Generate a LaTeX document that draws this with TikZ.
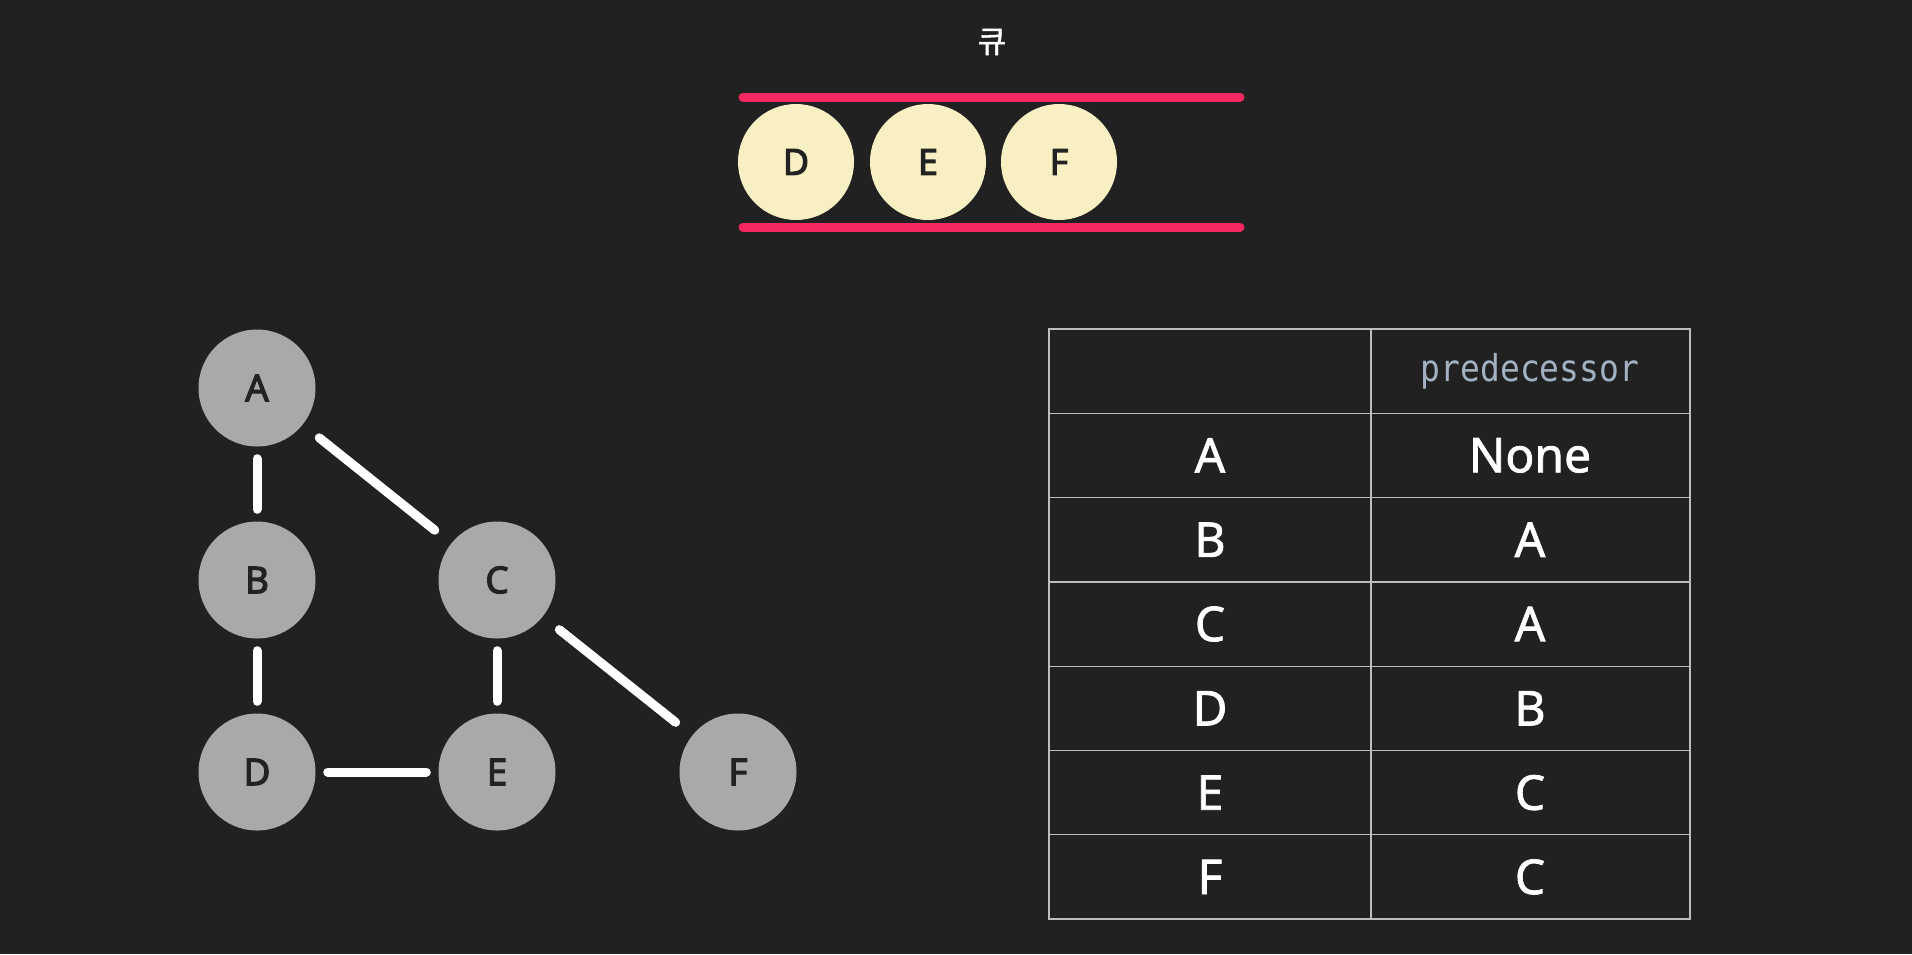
\documentclass[tikz,border=0pt]{standalone}
\usepackage{fontspec}
\setmainfont{Noto Sans}
\newfontfamily\nodefont{Noto Sans}[FakeBold=3]
\newfontfamily\cellfont{Noto Sans}[FakeBold=1.5]
\newfontfamily\krfont{Noto Sans CJK KR}[FakeBold=1.5]
\newfontfamily\monofont{DejaVu Sans Mono}[FakeStretch=0.89]
\definecolor{bg}{HTML}{212121}
\definecolor{nodegray}{HTML}{A9A9A9}
\definecolor{cream}{HTML}{F8EFC3}
\definecolor{qred}{HTML}{F5295F}
\definecolor{darktxt}{HTML}{222222}
\definecolor{gridc}{HTML}{BDBDBD}
\definecolor{monoc}{HTML}{A3B2C2}
\tikzset{
  gnode/.style={circle, fill=nodegray, minimum size=117pt, inner sep=0pt, text=darktxt, font=\nodefont\fontsize{37}{40}\selectfont},
  qnode/.style={circle, fill=cream, minimum size=116pt, inner sep=0pt, text=darktxt, font=\nodefont\fontsize{36}{40}\selectfont},
  edge/.style={white, line width=9pt, line cap=round, shorten <=12pt, shorten >=12pt},
  dedge/.style={white, line width=9pt, line cap=round, shorten <=21pt, shorten >=21pt},
  qline/.style={qred, line width=9pt, line cap=round},
  cell/.style={text=white, font=\cellfont\fontsize{48}{52}\selectfont, inner sep=0pt},
  grid/.style={gridc, line width=1.3pt}
}
\begin{document}
\begin{tikzpicture}[x=1pt, y=-1pt]
\fill[bg] (0,0) rectangle (1912,954);
\useasboundingbox (0,0) rectangle (1912,954);
% title
\node[text=white, font=\krfont\fontsize{31}{34}\selectfont] (title) at (992,42) {큐};
% queue
\coordinate (qt1) at (743,97);
\coordinate (qt2) at (1240,97);
\coordinate (qb1) at (743,227);
\coordinate (qb2) at (1240,227);
\draw[qline] (qt1) -- (qt2);
\draw[qline] (qb1) -- (qb2);
\node[qnode] (qD) at (796,162) {D};
\node[qnode] (qE) at (928,162) {E};
\node[qnode] (qF) at (1059,162) {F};
% graph
\node[gnode] (A) at (257,388) {A};
\node[gnode] (B) at (257,580) {B};
\node[gnode] (C) at (497,580) {C};
\node[gnode] (D) at (257,772) {D};
\node[gnode] (E) at (497,772) {E};
\node[gnode] (F) at (738,772) {F};
\draw[edge] (A) -- (B);
\draw[dedge] (A) -- (C);
\draw[edge] (B) -- (D);
\draw[edge] (C) -- (E);
\draw[dedge] (C) -- (F);
\draw[edge] (D) -- (E);
% table
\draw[grid] (1049,329) rectangle (1690,919);
\draw[grid] (1371,329) -- (1371,919);
\foreach \i in {1,...,6} {
  \draw[grid] (1049,{329+84.29*\i}) -- (1690,{329+84.29*\i});
}
\node[text=monoc, font=\monofont\fontsize{37}{40}\selectfont, inner sep=0pt] (hdr) at (1530,371) {predecessor};
\node[cell] (kA) at (1210,455.4) {A};
\node[cell] (vA) at (1530,455.4) {None};
\node[cell] (kB) at (1210,539.7) {B};
\node[cell] (vB) at (1530,539.7) {A};
\node[cell] (kC) at (1210,624.0) {C};
\node[cell] (vC) at (1530,624.0) {A};
\node[cell] (kD) at (1210,708.3) {D};
\node[cell] (vD) at (1530,708.3) {B};
\node[cell] (kE) at (1210,792.6) {E};
\node[cell] (vE) at (1530,792.6) {C};
\node[cell] (kF) at (1210,876.9) {F};
\node[cell] (vF) at (1530,876.9) {C};
\end{tikzpicture}
\end{document}
